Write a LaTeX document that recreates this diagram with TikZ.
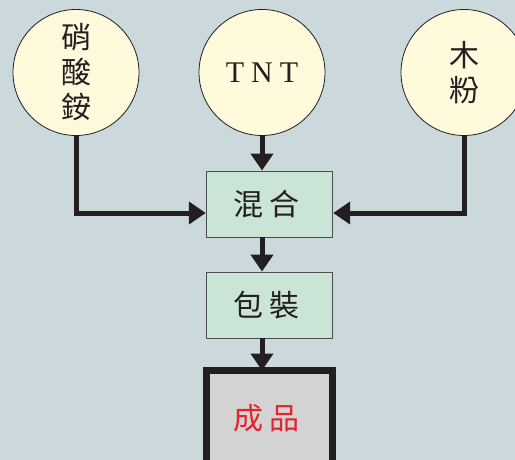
\documentclass[tikz,border=0pt]{standalone}
\usepackage{fontspec}
\setmainfont{Liberation Serif}
\newfontfamily\cjk{Noto Sans CJK TC}
\usetikzlibrary{arrows.meta,calc}
\definecolor{bgc}{HTML}{CBD9DD}
\definecolor{circfill}{HTML}{FFFADB}
\definecolor{boxfill}{HTML}{CAE5D5}
\definecolor{endfill}{HTML}{D3D3D3}
\definecolor{inkc}{HTML}{231F20}
\definecolor{redtxt}{HTML}{E8212A}
\begin{document}
\begin{tikzpicture}[x=1pt,y=-1pt,
  ingredient/.style={circle,draw=inkc,line width=0.8pt,fill=circfill,minimum size=126pt,inner sep=0pt,align=center,text=inkc,font=\cjk\fontsize{30}{35}\selectfont},
  stepbox/.style={rectangle,draw=inkc!80,line width=0.9pt,fill=boxfill,minimum width=126.5pt,minimum height=66pt,inner sep=0pt,text=inkc,font=\cjk\fontsize{30}{35}\selectfont},
  endbox/.style={rectangle,draw=inkc,line width=7pt,fill=endfill,minimum width=125.5pt,minimum height=95pt,inner sep=0pt,text=redtxt,font=\cjk\fontsize{30}{35}\selectfont},
  flow/.style={draw=inkc,line width=5pt,-{Triangle[width=22pt,length=17pt]}}
]
\useasboundingbox (0,0) rectangle (515,460);
\fill[bgc] (0,0) rectangle (515,460);

\node[ingredient] (an) at (76,72.5) {硝\\酸\\銨};
\node[ingredient,font=\fontsize{30}{35}\selectfont] (tnt) at (262,72.5) {T\hspace{7pt}N\hspace{7pt}T};
\node[ingredient] (wood) at (464,72.5) {木\\粉};

\node[stepbox] (mix) at (269.5,204) {\hspace{-6pt}混\hspace{6pt}合};
\node[stepbox] (pack) at (269.5,305) {\hspace{-6pt}包\hspace{6pt}裝};
\node[endbox] (prod) at (269.25,418) {\hspace{-6pt}成\hspace{6pt}品};

\coordinate (mixL) at ([yshift=-9pt]mix.west);
\coordinate (mixR) at ([yshift=-9pt]mix.east);

\draw[flow] (an.south) |- (mixL);
\draw[flow] (wood.south) |- (mixR);
\draw[flow] (tnt.south) -- (tnt.south |- mix.north);
\draw[flow] (tnt.south |- mix.south) -- (tnt.south |- pack.north);
\draw[flow] (tnt.south |- pack.south) -- ([yshift=-3.5pt]tnt.south |- prod.north);
\end{tikzpicture}
\end{document}
